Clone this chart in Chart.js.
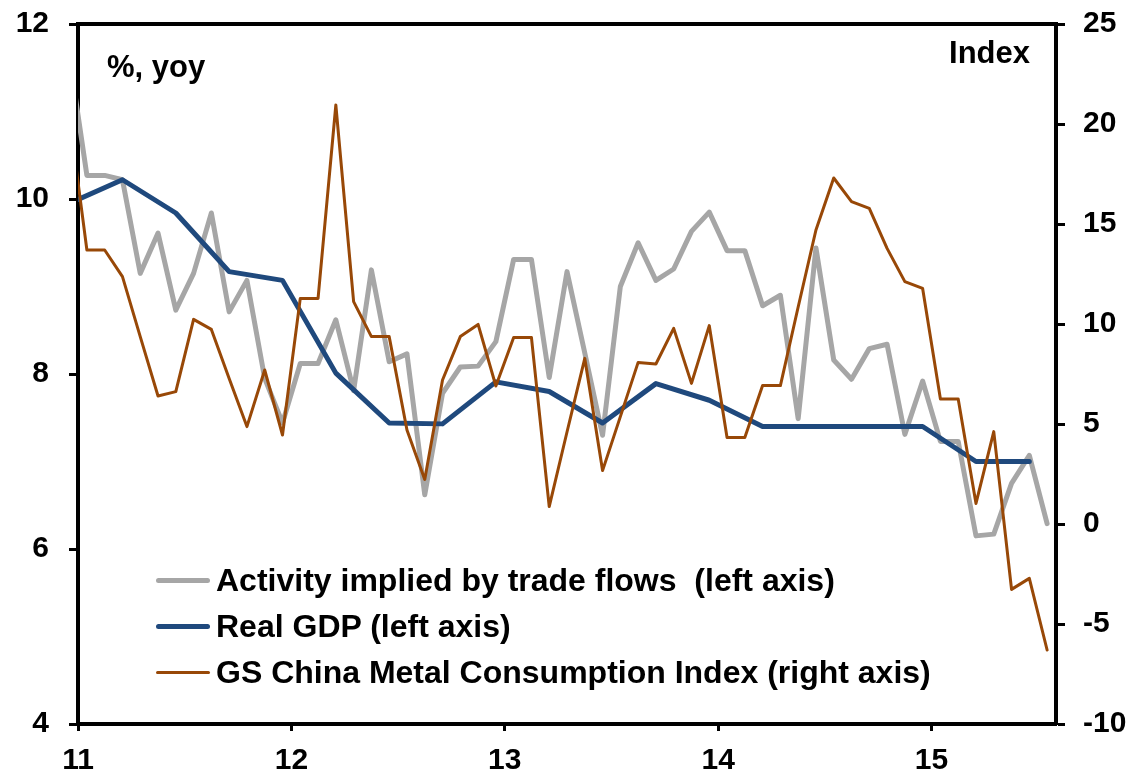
<!DOCTYPE html>
<html>
<head>
<meta charset="utf-8">
<script src="https://cdn.jsdelivr.net/npm/chart.js@4.4.1/dist/chart.umd.min.js"></script>
<style>
body{margin:0;background:#fff}
#wrap{position:relative;width:1131px;height:776px}
#legend{position:absolute;left:156px;top:557px;font:bold 32px Arial,"Liberation Sans",sans-serif;color:#000}
.row{display:flex;align-items:center;height:46px;white-space:pre}
.swatch{width:54px;margin-right:6px;border-radius:3px}
</style>
</head>
<body>
<div id="wrap"><canvas id="c"></canvas><div id="legend"></div></div>
<script>
'use strict';
// months are counted from Jan 2011; monthly series start in Dec 2010
const firstMonth = -1;
const yearLabels = ['11','12','13','14','15'];

const activity = [11.65,
  10.27,10.27,10.22,9.15,9.61,8.73,9.15,9.84,8.71,9.07,7.95,7.44,
  8.12,8.12,8.62,7.81,9.19,8.14,8.23,6.62,7.78,8.08,8.09,8.37,
  9.31,9.31,7.96,9.17,8.24,7.30,9.00,9.50,9.07,9.20,9.63,9.85,
  9.41,9.41,8.78,8.90,7.49,9.44,8.16,7.94,8.29,8.34,7.31,7.92,
  7.23,7.23,6.15,6.17,6.75,7.07,6.29];

const metalIndex = [20.5,
  13.7,13.7,12.37,9.37,6.4,6.62,10.23,9.73,7.28,4.87,7.7,4.45,
  11.28,11.28,20.95,11.12,9.37,9.37,4.7,2.23,7.2,9.37,9.98,6.9,
  9.33,9.33,0.87,4.6,8.28,2.67,5.37,8.08,8.0,9.78,7.03,9.92,
  4.32,4.32,6.92,6.92,10.85,14.7,17.3,16.12,15.78,13.78,12.12,11.78,
  6.25,6.25,1.03,4.62,-3.27,-2.72,-6.3];

const gdpQuarters = ['2010Q4','2011Q1','2011Q2','2011Q3','2011Q4','2012Q1','2012Q2','2012Q3','2012Q4',
  '2013Q1','2013Q2','2013Q3','2013Q4','2014Q1','2014Q2','2014Q3','2014Q4','2015Q1','2015Q2'];
const gdp = [9.95,10.22,9.84,9.17,9.07,8.01,7.44,7.43,7.91,7.80,7.44,7.89,7.70,7.40,7.40,7.40,7.40,7.00,7.00];

const seriesNames = ['Activity implied by trade flows  (left axis)','Real GDP (left axis)','GS China Metal Consumption Index (right axis)'];
const seriesColors = ['#a6a6a6','#1f497d','#984807'];
const seriesWidths = [5,5,3];

const monthly = arr => arr.map((v,i) => ({x: firstMonth + i + 0.5, y: v}));
const quarterX = q => (parseInt(q) - 2011)*12 + parseInt(q.slice(5))*3 - 0.5;

const FONT = 'Arial, "Liberation Sans", sans-serif';

const axisNotes = {
  id: 'axisNotes',
  afterDraw(chart) {
    const {ctx, chartArea} = chart;
    ctx.save();
    ctx.font = 'bold 31px ' + FONT;
    ctx.fillStyle = '#000';
    ctx.textBaseline = 'alphabetic';
    ctx.textAlign = 'left';
    ctx.fillText('%, yoy', chartArea.left + 29, chartArea.top + 53);
    ctx.textAlign = 'right';
    ctx.fillText('Index', chartArea.right - 26, chartArea.top + 39);
    ctx.restore();
  }
};

const lineDs = (k, data, axis, order) => ({
  label: seriesNames[k], data, yAxisID: axis, order,
  borderColor: seriesColors[k], borderWidth: seriesWidths[k],
  pointRadius: 0, tension: 0, borderJoinStyle: 'round', borderCapStyle: 'round'
});

const tickFont = {family: FONT, size: 30, weight: 'bold'};
const edgeGrid = len => ({drawOnChartArea: false, tickLength: len, tickWidth: 3, tickColor: '#000'});
const edgeBorder = {display: true, color: '#000', width: 4};
// fixed box sizes, and no extra room for the end labels
const fixSize = (w, h) => s => {
  if (w) s.width = w;
  if (h) s.height = h;
  s.paddingTop = s.paddingBottom = s.paddingLeft = s.paddingRight = 0;
};

new Chart(document.getElementById('c'), {
  type: 'line',
  data: {
    datasets: [
      lineDs(0, monthly(activity), 'y', 3),
      lineDs(1, gdpQuarters.map((q,i) => ({x: quarterX(q), y: gdp[i]})), 'y', 2),
      lineDs(2, monthly(metalIndex), 'y1', 1)
    ]
  },
  options: {
    responsive: true, maintainAspectRatio: false, animation: false,
    devicePixelRatio: 1,
    layout: {padding: 0},
    plugins: {legend: {display: false}, tooltip: {enabled: false}},
    scales: {
      x: {
        type: 'linear', position: 'bottom', min: 0, max: 55,
        ticks: {stepSize: 12, color: '#000', font: tickFont, padding: 12, maxRotation: 0,
          callback: v => yearLabels[v/12]},
        grid: edgeGrid(7), border: edgeBorder,
        afterFit: fixSize(0, 52)
      },
      xTop: {
        type: 'linear', position: 'top', min: 0, max: 55,
        ticks: {display: false}, grid: {display: false}, border: edgeBorder,
        afterFit: fixSize(0, 24)
      },
      y: {
        position: 'left', min: 4, max: 12,
        ticks: {stepSize: 2, color: '#000', font: tickFont, padding: 20},
        grid: edgeGrid(9), border: edgeBorder,
        afterFit: fixSize(78, 0)
      },
      y1: {
        position: 'right', min: -10, max: 25,
        ticks: {stepSize: 5, color: '#000', font: tickFont, padding: 18},
        grid: edgeGrid(9), border: edgeBorder,
        afterFit: fixSize(75, 0)
      }
    }
  },
  plugins: [axisNotes]
});

document.getElementById('legend').innerHTML = seriesNames.map((n,k) =>
  `<div class="row"><span class="swatch" style="height:${seriesWidths[k]}px;background:${seriesColors[k]}"></span><span>${n}</span></div>`
).join('');
</script>
</body>
</html>
